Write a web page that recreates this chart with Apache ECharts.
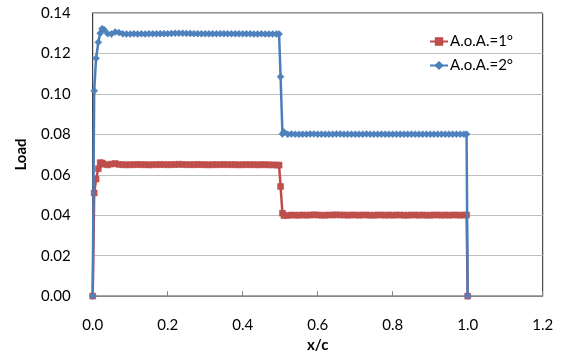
<!DOCTYPE html>
<html>
<head>
<meta charset="utf-8">
<script src="https://cdn.jsdelivr.net/npm/echarts@6/dist/echarts.min.js"></script>
<style>
  html, body { margin: 0; padding: 0; background: #fff; }
  #chart { width: 563px; height: 358px; }
</style>
</head>
<body>
<div id="chart"></div>
<script>
// Chordwise positions x/c
const xValues = [
  0, 0.004, 0.009, 0.015, 0.02, 0.025, 0.03,
  0.04, 0.05, 0.06, 0.07, 0.08, 0.09, 0.10, 0.11, 0.12, 0.13, 0.14, 0.15,
  0.16, 0.17, 0.18, 0.19, 0.20, 0.21, 0.22, 0.23, 0.24, 0.25, 0.26, 0.27,
  0.28, 0.29, 0.30, 0.31, 0.32, 0.33, 0.34, 0.35, 0.36, 0.37, 0.38, 0.39,
  0.40, 0.41, 0.42, 0.43, 0.44, 0.45, 0.46, 0.47, 0.48, 0.49,
  0.497, 0.501, 0.506, 0.51,
  0.52, 0.53, 0.54, 0.55, 0.56, 0.57, 0.58, 0.59, 0.60, 0.61, 0.62, 0.63,
  0.64, 0.65, 0.66, 0.67, 0.68, 0.69, 0.70, 0.71, 0.72, 0.73, 0.74, 0.75,
  0.76, 0.77, 0.78, 0.79, 0.80, 0.81, 0.82, 0.83, 0.84, 0.85, 0.86, 0.87,
  0.88, 0.89, 0.90, 0.91, 0.92, 0.93, 0.94, 0.95, 0.96, 0.97, 0.98, 0.99,
  0.997, 1.0
];

// Load at angle of attack 1 degree
const load1deg = [
  0, 0.0510, 0.0579, 0.0630, 0.0660, 0.0658, 0.0652,
  0.0649, 0.0653, 0.0656, 0.0651, 0.0650, 0.0649, 0.0650, 0.0650, 0.0651, 0.0650, 0.0650, 0.0649,
  0.0650, 0.0650, 0.0651, 0.0650, 0.0650, 0.0650, 0.0651, 0.0652, 0.0651, 0.0650, 0.0650, 0.0650,
  0.0651, 0.0650, 0.0650, 0.0649, 0.0650, 0.0650, 0.0650, 0.0651, 0.0650, 0.0650, 0.0650, 0.0649,
  0.0650, 0.0650, 0.0650, 0.0650, 0.0649, 0.0650, 0.0650, 0.0649, 0.0649, 0.0648,
  0.0648, 0.0542, 0.0410, 0.0398,
  0.0399, 0.0401, 0.0400, 0.0400, 0.0401, 0.0400, 0.0401, 0.0402, 0.0401, 0.0400, 0.0400, 0.0401,
  0.0401, 0.0402, 0.0401, 0.0401, 0.0400, 0.0401, 0.0401, 0.0400, 0.0401, 0.0401, 0.0400, 0.0400,
  0.0401, 0.0401, 0.0400, 0.0401, 0.0400, 0.0401, 0.0401, 0.0400, 0.0400, 0.0401, 0.0401, 0.0400,
  0.0401, 0.0400, 0.0400, 0.0401, 0.0401, 0.0400, 0.0401, 0.0400, 0.0401, 0.0401, 0.0400, 0.0401,
  0.0401, 0
];

// Load at angle of attack 2 degrees
const load2deg = [
  0, 0.1015, 0.1176, 0.1255, 0.1300, 0.1322, 0.1318,
  0.1298, 0.1296, 0.1306, 0.1303, 0.1297, 0.1296, 0.1296, 0.1297, 0.1296, 0.1297, 0.1296, 0.1297,
  0.1297, 0.1297, 0.1298, 0.1298, 0.1298, 0.1299, 0.1300, 0.1300, 0.1300, 0.1299, 0.1299, 0.1298,
  0.1298, 0.1297, 0.1297, 0.1297, 0.1297, 0.1297, 0.1298, 0.1298, 0.1297, 0.1297, 0.1297, 0.1297,
  0.1297, 0.1297, 0.1297, 0.1296, 0.1296, 0.1297, 0.1296, 0.1296, 0.1296, 0.1296,
  0.1296, 0.1085, 0.0802, 0.0812,
  0.0800, 0.0802, 0.0801, 0.0800, 0.0801, 0.0801, 0.0802, 0.0802, 0.0801, 0.0801, 0.0801, 0.0801,
  0.0801, 0.0802, 0.0802, 0.0801, 0.0801, 0.0801, 0.0801, 0.0801, 0.0801, 0.0802, 0.0801, 0.0801,
  0.0801, 0.0801, 0.0801, 0.0801, 0.0801, 0.0801, 0.0801, 0.0801, 0.0801, 0.0801, 0.0801, 0.0801,
  0.0801, 0.0801, 0.0801, 0.0801, 0.0801, 0.0801, 0.0801, 0.0801, 0.0801, 0.0801, 0.0801, 0.0801,
  0.0801, 0
];

const seriesNames = ['A.o.A.=1°', 'A.o.A.=2°'];

const pairs = (xs, ys) => xs.map((x, i) => [x, ys[i]]);

const FONT = 'Lato, "Liberation Sans", sans-serif';

const chart = echarts.init(document.getElementById('chart'), null, { renderer: 'canvas' });

chart.setOption({
  animation: false,
  backgroundColor: '#ffffff',
  textStyle: { fontFamily: FONT },
  grid: {
    left: 92.7, right: 20.3, top: 13, bottom: 61.5,
    show: true, borderColor: '#262626', borderWidth: 1
  },
  legend: {
    orient: 'vertical',
    left: 424, top: 29,
    itemWidth: 18, itemHeight: 8, itemGap: 9,
    textStyle: { fontFamily: FONT, fontSize: 15, color: '#000', padding: [0, 0, 0, -3] },
    data: seriesNames
  },
  xAxis: {
    type: 'value',
    min: 0, max: 1.2, interval: 0.2,
    name: 'x/c',
    nameLocation: 'middle',
    nameGap: 37,
    nameTextStyle: { fontFamily: FONT, fontSize: 15, fontWeight: 'bold', color: '#000' },
    axisLine: { show: true, lineStyle: { color: '#868686', width: 1 } },
    axisTick: { show: true, inside: true, length: 5, lineStyle: { color: '#868686' } },
    axisLabel: {
      margin: 22, fontSize: 15, color: '#000', fontFamily: FONT,
      formatter: v => v.toFixed(1)
    },
    splitLine: { show: false }
  },
  yAxis: {
    type: 'value',
    min: 0, max: 0.14, interval: 0.02,
    name: 'Load',
    nameLocation: 'middle',
    nameGap: 64,
    nameRotate: 90,
    nameTextStyle: { fontFamily: FONT, fontSize: 15, fontWeight: 'bold', color: '#000' },
    axisLine: { show: true, lineStyle: { color: '#404040', width: 1 } },
    axisTick: { show: false },
    axisLabel: {
      margin: 22, fontSize: 15, color: '#000', fontFamily: FONT,
      formatter: v => v.toFixed(2)
    },
    splitLine: { show: true, lineStyle: { color: '#bfbfbf', width: 1 } }
  },
  series: [
    {
      name: seriesNames[0],
      type: 'line',
      data: pairs(xValues, load1deg),
      symbol: 'rect',
      symbolSize: 6,
      showAllSymbol: true,
      lineStyle: { color: '#be4b48', width: 2.5 },
      itemStyle: { color: '#c0504d', borderColor: '#be4b48', borderWidth: 0.5 },
      z: 2
    },
    {
      name: seriesNames[1],
      type: 'line',
      data: pairs(xValues, load2deg),
      symbol: 'diamond',
      symbolSize: 7,
      showAllSymbol: true,
      lineStyle: { color: '#4a7ebb', width: 2.5 },
      itemStyle: { color: '#4f81bd', borderColor: '#4a7ebb', borderWidth: 0.5 },
      z: 3
    }
  ]
});
</script>
</body>
</html>
